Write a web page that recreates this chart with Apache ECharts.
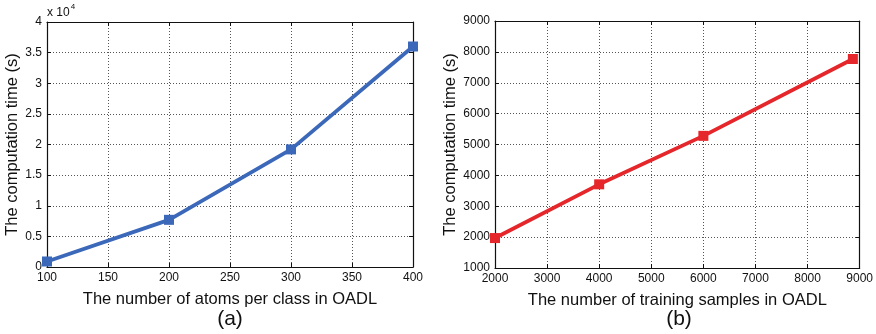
<!DOCTYPE html>
<html>
<head>
<meta charset="utf-8">
<script src="https://cdn.jsdelivr.net/npm/echarts@6/dist/echarts.min.js"></script>
<style>
  html, body { margin: 0; padding: 0; background: #fff; }
  #chart { width: 876px; height: 334px; }
</style>
</head>
<body>
<div id="chart"></div>
<script>
// Panel (a): computation time versus number of atoms per class
const atomsPerClass = [100, 200, 300, 400];
const timeByAtoms = [900, 7700, 19200, 36000];

// Panel (b): computation time versus number of training samples
const trainingSamples = [2000, 4000, 6000, 8870];
const timeBySamples = [1970, 3710, 5280, 7770];

const panelLabels = ['(a)', '(b)'];
const xTitles = ['The number of atoms per class in OADL', 'The number of training samples in OADL'];
const yTitle = 'The computation time (s)';

const FONT = '"Liberation Sans", Arial, sans-serif';
const gridLine = { show: true, lineStyle: { color: '#555', type: [1, 2], width: 1 } };
const boxLine = { show: true, onZero: false, lineStyle: { color: '#111', width: 1.2 } };
const tickIn = { show: true, inside: true, length: 4, lineStyle: { color: '#111' } };
const tickLabel = { color: '#111', fontSize: 12, fontFamily: FONT, margin: 5 };

function mainX(gridIndex, min, max, interval, name) {
  return {
    type: 'value', gridIndex, min, max, interval, position: 'bottom',
    axisLine: boxLine, axisTick: tickIn, splitLine: gridLine,
    axisLabel: Object.assign({}, tickLabel, { formatter: v => String(v) }),
    name, nameLocation: 'middle', nameGap: 24,
    nameTextStyle: { color: '#111', fontSize: 16.5, fontFamily: FONT }
  };
}
function mainY(gridIndex, min, max, interval, formatter, nameGap) {
  return {
    type: 'value', gridIndex, min, max, interval, position: 'left',
    axisLine: boxLine, axisTick: tickIn, splitLine: gridLine,
    axisLabel: Object.assign({}, tickLabel, { formatter }),
    name: yTitle, nameLocation: 'middle', nameGap,
    nameTextStyle: { color: '#111', fontSize: 16.5, fontFamily: FONT }
  };
}
function frameX(gridIndex, min, max, interval) {
  return {
    type: 'value', gridIndex, min, max, interval, position: 'top',
    axisLine: boxLine, axisTick: tickIn, splitLine: { show: false },
    axisLabel: { show: false }
  };
}
function frameY(gridIndex, min, max, interval) {
  return {
    type: 'value', gridIndex, min, max, interval, position: 'right',
    axisLine: boxLine, axisTick: tickIn, splitLine: { show: false },
    axisLabel: { show: false }
  };
}
function pairs(xs, ys) { return xs.map((x, i) => [x, ys[i]]); }

const chart = echarts.init(document.getElementById('chart'), null, { renderer: 'canvas' });
chart.setOption({
  backgroundColor: '#fff',
  animation: false,
  grid: [
    { left: 47, right: 463, top: 22, bottom: 67 },
    { left: 495, right: 15, top: 21, bottom: 66 }
  ],
  xAxis: [
    mainX(0, 100, 400, 50, xTitles[0]),
    mainX(1, 2000, 9000, 1000, xTitles[1]),
    frameX(0, 100, 400, 50),
    frameX(1, 2000, 9000, 1000)
  ],
  yAxis: [
    mainY(0, 0, 40000, 5000, v => String(v / 10000), 25),
    mainY(1, 1000, 9000, 1000, v => String(v), 33),
    frameY(0, 0, 40000, 5000),
    frameY(1, 1000, 9000, 1000)
  ],
  series: [
    {
      type: 'line', xAxisIndex: 0, yAxisIndex: 0,
      data: pairs(atomsPerClass, timeByAtoms),
      symbol: 'rect', symbolSize: 10,
      lineStyle: { color: '#3b68b9', width: 3.8 },
      itemStyle: { color: '#3b68b9' }
    },
    {
      type: 'line', xAxisIndex: 1, yAxisIndex: 1,
      data: pairs(trainingSamples, timeBySamples),
      symbol: 'rect', symbolSize: 10,
      lineStyle: { color: '#e5262b', width: 3.8 },
      itemStyle: { color: '#e5262b' }
    }
  ],
  graphic: [
    {
      type: 'text', left: 47, top: 3,
      style: {
        text: '{b|x 10}{s|4}',
        rich: {
          b: { fontSize: 12, fontFamily: FONT, fill: '#111', verticalAlign: 'bottom' },
          s: { fontSize: 8, fontFamily: FONT, fill: '#111', verticalAlign: 'top', padding: [0, 0, 8, 1] }
        }
      }
    },
    {
      type: 'text', x: 230, y: 319,
      style: { text: panelLabels[0], fontSize: 21, fontFamily: FONT, fill: '#111', align: 'center', verticalAlign: 'middle' }
    },
    {
      type: 'text', x: 679, y: 319,
      style: { text: panelLabels[1], fontSize: 21, fontFamily: FONT, fill: '#111', align: 'center', verticalAlign: 'middle' }
    }
  ]
});
</script>
</body>
</html>
